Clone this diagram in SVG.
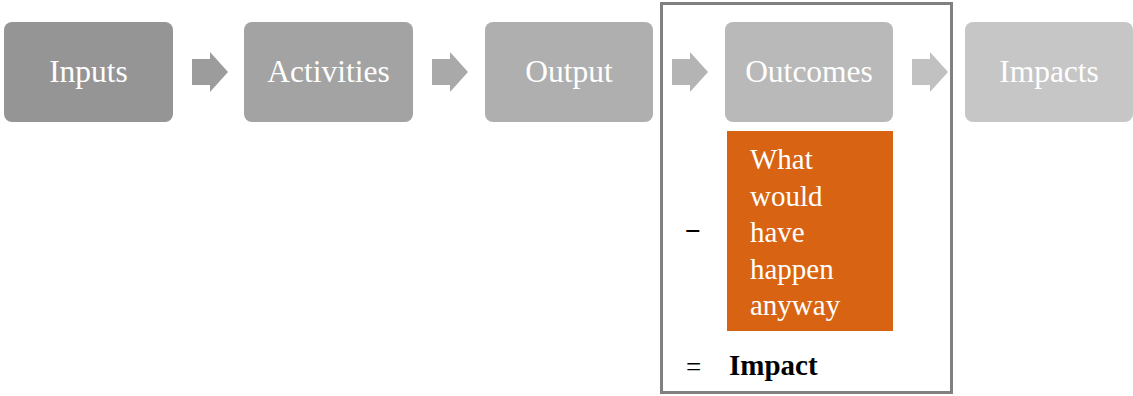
<svg xmlns="http://www.w3.org/2000/svg" width="1133" height="396" viewBox="0 0 1133 396">
<style>
.lbl{font-family:"Liberation Serif","Times New Roman",serif;font-size:31.5px;fill:#ffffff;text-anchor:middle}
.otxt{font-family:"Liberation Serif","Times New Roman",serif;font-size:29px;fill:#ffffff}
.blk{font-family:"Liberation Serif","Times New Roman",serif;fill:#000000}
</style>
<defs>
<path id="arr" d="M0,7 H18 V0 L36,20 L18,40 V33 H0 Z"/>
</defs>
<rect x="661.5" y="3.5" width="290" height="389" fill="#ffffff" stroke="#808080" stroke-width="3"/>
<g id="inputs"><rect x="4" y="22" width="169" height="100" rx="8" fill="#959595"/><text class="lbl" x="88.5" y="82">Inputs</text></g>
<g id="activities"><rect x="244" y="22" width="169" height="100" rx="8" fill="#a3a3a3"/><text class="lbl" x="328.5" y="82">Activities</text></g>
<g id="output"><rect x="485" y="22" width="168" height="100" rx="8" fill="#afafaf"/><text class="lbl" x="569" y="82">Output</text></g>
<g id="outcomes"><rect x="725" y="22" width="168" height="100" rx="8" fill="#b9b9b9"/><text class="lbl" x="809" y="82">Outcomes</text></g>
<g id="impacts"><rect x="965" y="22" width="168" height="100" rx="8" fill="#c6c6c6"/><text class="lbl" x="1049" y="82">Impacts</text></g>
<g id="connectors">
<use href="#arr" x="192" y="52" fill="#9c9c9c"/>
<use href="#arr" x="432" y="52" fill="#a9a9a9"/>
<use href="#arr" x="672" y="52" fill="#b4b4b4"/>
<use href="#arr" x="912" y="52" fill="#c1c1c1"/>
</g>
<g id="anyway">
<rect x="727" y="131" width="166" height="200" fill="#d86413"/>
<text class="otxt" x="750" y="169">What</text>
<text class="otxt" x="750" y="205.5">would</text>
<text class="otxt" x="750" y="242">have</text>
<text class="otxt" x="750" y="278.5">happen</text>
<text class="otxt" x="750" y="315">anyway</text>
</g>
<text class="blk" x="685" y="240" font-size="28px" font-weight="bold">−</text>
<text class="blk" x="686" y="376" font-size="27px">=</text>
<text class="blk" x="729" y="375" font-size="29px" font-weight="bold">Impact</text>
</svg>
